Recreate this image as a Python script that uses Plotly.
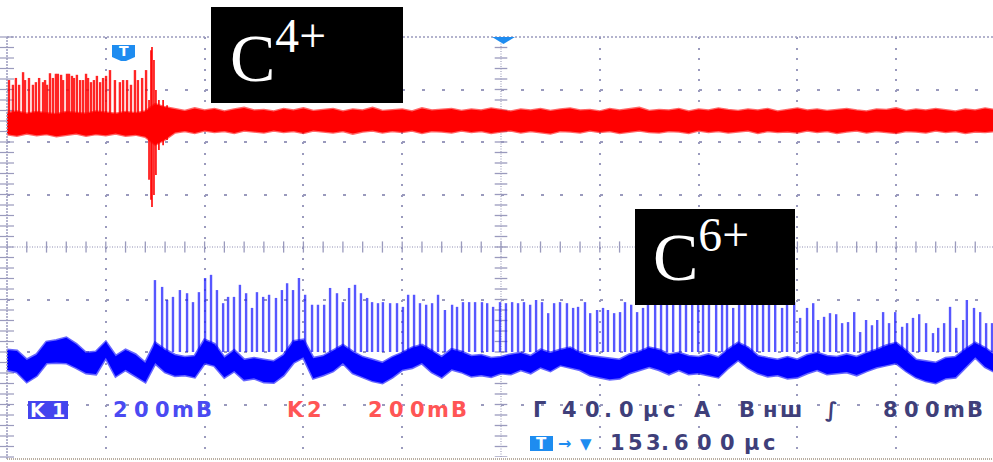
import plotly.graph_objects as go

# ---------------- data (time in µs, amplitude in divisions) ----------------
t_env = [0, 4, 8, 12, 16, 20, 24, 28, 32, 36,
         40, 44, 48, 52, 56, 60, 64, 68, 72, 76,
         80, 84, 88, 92, 96, 100, 104, 108, 112, 116,
         120, 124, 128, 132, 136, 140, 144, 148, 152, 156,
         160, 164, 168, 172, 176, 180, 184, 188, 192, 196,
         200, 204, 208, 212, 216, 220, 224, 228, 232, 236,
         240, 244, 248, 252, 256, 260, 264, 268, 272, 276,
         280, 284, 288, 292, 296, 300, 304, 308, 312, 316,
         320, 324, 328, 332, 336, 340, 344, 348, 352, 356,
         360, 364, 368, 372, 376, 380, 384, 388, 392, 396,
         400]

# channel 2 (red, C4+) noise envelope
red_hi = [2.55, 2.58, 2.54, 2.57, 2.55, 2.53, 2.57, 2.55, 2.54, 2.58,
          2.56, 2.54, 2.57, 2.55, 2.58, 2.72, 2.66, 2.62, 2.59, 2.64,
          2.60, 2.63, 2.58, 2.62, 2.65, 2.60, 2.61, 2.58, 2.63, 2.60,
          2.64, 2.59, 2.61, 2.63, 2.58, 2.62, 2.60, 2.65, 2.59, 2.61,
          2.62, 2.58, 2.64, 2.60, 2.61, 2.63, 2.59, 2.62, 2.60, 2.64,
          2.61, 2.58, 2.62, 2.60, 2.63, 2.59, 2.62, 2.64, 2.60, 2.61,
          2.58, 2.63, 2.60, 2.62, 2.65, 2.59, 2.61, 2.60, 2.63, 2.58,
          2.62, 2.60, 2.64, 2.61, 2.59, 2.62, 2.60, 2.63, 2.58, 2.61,
          2.64, 2.60, 2.62, 2.59, 2.61, 2.63, 2.60, 2.58, 2.62, 2.61,
          2.64, 2.59, 2.62, 2.60, 2.63, 2.61, 2.58, 2.62, 2.60, 2.64,
          2.61]
red_lo = [2.15, 2.12, 2.16, 2.13, 2.15, 2.11, 2.14, 2.16, 2.12, 2.15,
          2.13, 2.16, 2.12, 2.14, 2.10, 1.95, 2.05, 2.18, 2.21, 2.17,
          2.22, 2.19, 2.21, 2.17, 2.22, 2.20, 2.18, 2.22, 2.19, 2.21,
          2.17, 2.22, 2.20, 2.18, 2.21, 2.16, 2.20, 2.22, 2.18, 2.21,
          2.19, 2.22, 2.17, 2.21, 2.20, 2.18, 2.22, 2.19, 2.21, 2.17,
          2.20, 2.22, 2.18, 2.21, 2.19, 2.16, 2.21, 2.20, 2.18, 2.22,
          2.19, 2.21, 2.17, 2.20, 2.22, 2.19, 2.18, 2.21, 2.20, 2.17,
          2.22, 2.19, 2.21, 2.18, 2.20, 2.22, 2.17, 2.21, 2.19, 2.20,
          2.18, 2.22, 2.19, 2.21, 2.17, 2.20, 2.22, 2.18, 2.21, 2.19,
          2.17, 2.21, 2.20, 2.18, 2.22, 2.19, 2.21, 2.17, 2.20, 2.19,
          2.21]

# channel 2 pulses before the trigger
red_spike_t = [0.8, 2.4, 3.6, 4.9, 6.5, 7.3, 8.9, 10.5, 11.7, 13.0, 14.6, 15.4, 16.2, 17.4, 18.6,
               19.8, 20.6, 21.9, 22.7, 24.3, 25.1, 26.3, 27.1, 28.3, 29.6, 30.8, 32.0, 32.8, 34.0,
               35.2, 36.4, 37.7, 38.9, 40.1, 41.7, 43.7, 45.7, 47.0, 48.6, 50.2, 51.8, 53.0, 54.7, 56.3]
red_spike_top = [3.18, 3.09, 3.22, 3.09, 3.33, 3.18, 3.22, 3.09, 3.14, 3.22, 3.14, 3.18, 3.09, 3.31,
                 3.22, 3.30, 3.30, 3.28, 3.18, 3.30, 3.30, 3.26, 3.22, 3.28, 3.18, 3.18, 3.30, 3.22,
                 3.14, 3.18, 3.26, 3.14, 3.22, 3.26, 3.37, 3.18, 3.14, 3.18, 3.18, 3.09, 3.37, 3.18,
                 3.22, 3.37]

# channel 2 burst at the trigger
burst_t = [57.5, 58.3, 58.7, 59.5, 60.3, 61.5, 63.2, 64.8]
burst_hi = [2.80, 3.75, 3.81, 3.56, 2.99, 2.80, 2.80, 2.70]
burst_lo = [1.28, 0.90, 0.76, 0.99, 1.37, 1.85, 1.94, 2.04]

# channel 1 (blue, C6+) noise envelope
blue_hi = [-1.96, -1.98, -2.15, -2.05, -1.81, -1.78, -1.73, -1.85, -2.02, -2.00,
           -1.81, -2.08, -1.96, -2.05, -2.21, -1.83, -1.96, -2.06, -2.10, -2.08,
           -1.77, -1.85, -2.11, -1.97, -2.15, -2.12, -2.15, -2.18, -2.06, -1.80,
           -1.77, -2.12, -2.08, -1.98, -1.87, -2.00, -2.10, -2.15, -2.21, -2.10,
           -2.02, -1.92, -1.87, -1.98, -2.10, -1.95, -2.00, -2.08, -2.06, -2.12,
           -2.10, -2.05, -2.02, -2.08, -1.96, -2.02, -1.96, -1.92, -2.02, -2.08,
           -2.10, -2.13, -2.15, -2.05, -2.00, -1.92, -1.96, -2.05, -2.02, -2.08,
           -2.10, -2.05, -2.11, -1.95, -1.83, -1.92, -2.08, -2.12, -2.15, -2.10,
           -2.15, -2.06, -2.02, -2.08, -2.10, -2.05, -2.10, -2.02, -1.96, -1.88,
           -1.83, -1.98, -2.15, -2.18, -2.21, -2.12, -2.10, -1.95, -1.83, -1.93,
           -2.06]
blue_lo = [-2.34, -2.38, -2.57, -2.45, -2.21, -2.20, -2.21, -2.30, -2.40, -2.42,
           -2.11, -2.46, -2.34, -2.45, -2.57, -2.21, -2.38, -2.45, -2.44, -2.48,
           -2.21, -2.26, -2.48, -2.36, -2.53, -2.50, -2.57, -2.58, -2.44, -2.20,
           -2.10, -2.50, -2.44, -2.36, -2.21, -2.40, -2.48, -2.55, -2.59, -2.48,
           -2.34, -2.30, -2.21, -2.38, -2.48, -2.33, -2.38, -2.46, -2.44, -2.47,
           -2.40, -2.42, -2.34, -2.40, -2.29, -2.36, -2.25, -2.30, -2.34, -2.44,
           -2.48, -2.52, -2.50, -2.40, -2.34, -2.28, -2.34, -2.42, -2.34, -2.42,
           -2.40, -2.44, -2.48, -2.30, -2.15, -2.30, -2.40, -2.46, -2.44, -2.50,
           -2.48, -2.40, -2.34, -2.42, -2.40, -2.38, -2.44, -2.36, -2.29, -2.25,
           -2.21, -2.36, -2.48, -2.55, -2.59, -2.50, -2.48, -2.30, -2.10, -2.28,
           -2.38]

# channel 1 pulses after the trigger
blue_spike_t = [59.9, 62.8, 64.8, 67.2, 70.0, 72.9, 75.3, 77.7, 80.2, 82.6, 85.0, 87.5, 89.5, 91.9,
                94.3, 96.8, 99.2, 101.2, 103.7, 106.1, 108.9, 111.3, 113.4, 115.8, 118.2, 120.7,
                123.5, 125.9, 128.4, 130.8, 133.6, 136.0, 138.5, 140.9, 143.3, 145.8,
                147.8, 150.2, 152.2, 155.1, 157.9, 160.3, 162.4, 164.8, 167.2, 169.7, 172.1, 174.5,
                177.3, 180.2, 182.2, 184.6, 187.1, 189.5, 192.3, 194.4, 196.8, 199.6, 202.0, 204.5,
                206.9, 209.3, 211.8, 214.2, 216.6, 219.1, 221.5, 223.9, 226.7, 229.2, 231.2, 234.0,
                236.1, 238.9, 241.3, 243.3, 245.8, 248.2, 250.2, 252.7, 255.1, 257.5, 259.5, 262.4,
                264.8, 267.2, 269.7, 272.5, 274.9, 277.4, 279.8, 281.8, 284.2, 287.1, 289.5, 291.5,
                294.0, 296.4, 298.8, 301.7, 303.7, 306.1, 308.5, 311.0, 313.8, 315.8, 318.7,
                321.1, 323.9, 326.4, 328.4, 330.8, 333.2, 335.7, 338.1, 340.5, 343.0, 345.4, 347.8,
                350.2, 352.3, 354.7, 357.1, 359.6, 362.4, 364.4, 366.8, 369.3, 372.1, 374.9, 377.0,
                379.4, 381.8, 384.3, 387.1, 388.6, 391.5, 394.0, 396.4, 398.8]
blue_spike_top = [-0.63, -0.76, -1.01, -0.95, -0.82, -0.88, -1.05, -0.86, -0.59, -0.53, -0.82, -1.07,
                  -0.95, -0.95, -0.72, -0.88, -1.16, -0.86, -0.95, -0.91, -0.97, -0.82, -0.69, -0.82,
                  -0.59, -0.91, -1.10, -1.10, -1.10, -0.78, -0.88, -1.05, -0.78, -0.72, -0.88, -0.97,
                  -1.05, -1.07, -1.05, -1.07, -1.07, -1.14, -0.91, -0.91, -1.07, -1.10, -1.07, -0.91,
                  -1.20, -1.10, -1.14, -1.05, -1.05, -1.05, -1.05, -1.07, -1.14, -1.05, -1.07, -1.05,
                  -1.07, -1.05, -1.10, -1.01, -1.05, -1.26, -1.07, -1.05, -1.07, -1.16, -1.14, -1.05,
                  -1.26, -1.20, -1.16, -1.20, -1.26, -1.24, -1.05, -1.10, -1.24, -1.16, -1.10, -1.01,
                  -1.01, -1.10, -1.01, -1.01, -1.10, -1.10, -1.01, -1.10, -1.01, -1.05, -1.01, -1.10,
                  -1.16, -1.10, -1.01, -1.05, -1.10, -1.01, -1.05, -1.10, -1.16, -1.10, -1.05,
                  -1.35, -1.16, -1.07, -1.39, -1.33, -1.26, -1.28, -1.45, -1.43, -1.24, -1.62, -1.39,
                  -1.49, -1.39, -1.24, -1.45, -1.24, -1.52, -1.45, -1.35, -1.28, -1.45, -1.64, -1.54,
                  -1.45, -1.14, -1.54, -1.39, -1.01, -1.16, -1.24, -1.45, -1.45]

# screen read-out texts
ch1_label, ch1_scale = "K1", "200mB"
ch2_label, ch2_scale = "K2", "200mB"
timebase = "40.0μc"
trig_mode, trig_src, trig_level = "A", "Bнш", "800mB"
trig_delay = "153.600μc"

# ---------------- styles ----------------
RED = "#ff0000"
BLUE = "#0000ff"
GRID = "#9a9abd"
NAVY = "#3f3f7a"
TXT_BLUE = "#4a4af2"
TXT_RED = "#ff5555"
BADGE = "#1e8cf0"

fig = go.Figure()

def px(x):   # screen pixel -> paper x
    return (x - 7) / 986

def py(y):   # screen pixel -> paper y
    return (457 - y) / 420

def spike_trace(ts, tops, base, color, width, opacity=1.0):
    xs, ys = [], []
    for t, top in zip(ts, tops):
        xs += [t, t, None]
        ys += [base, top, None]
    return go.Scatter(x=xs, y=ys, mode="lines", line=dict(color=color, width=width),
                      opacity=opacity, hoverinfo="skip")

def band_trace(t, hi, lo, color, edge, edge_w):
    return go.Scatter(x=t + t[::-1], y=hi + lo[::-1], mode="lines", fill="toself",
                      fillcolor=color, line=dict(color=edge, width=edge_w),
                      hoverinfo="skip")

# grid decoration: centre cross ticks and left ruler
fig.add_trace(go.Scatter(x=[200] * 41, y=[-4 + 0.2 * i for i in range(41)], mode="markers",
                         marker=dict(symbol="line-ew", size=9, line=dict(color=GRID, width=1.3)),
                         hoverinfo="skip"))
fig.add_trace(go.Scatter(x=[8 * i for i in range(51)], y=[0] * 51, mode="markers",
                         marker=dict(symbol="line-ns", size=8, line=dict(color=GRID, width=1.3)),
                         hoverinfo="skip"))
fig.add_trace(go.Scatter(x=[0] * 41, y=[-4 + 0.2 * i for i in range(41)], mode="markers",
                         marker=dict(symbol="line-ew", size=10, line=dict(color=GRID, width=1.2)),
                         hoverinfo="skip", cliponaxis=False))

# channel 1 (blue)
fig.add_trace(spike_trace(blue_spike_t, blue_spike_top, -2.0, "#2020ff", 2.4, 0.75))
fig.add_trace(band_trace(t_env, blue_hi, blue_lo, BLUE, "rgba(0,0,255,0.6)", 3))

# channel 2 (red)
fig.add_trace(spike_trace(red_spike_t, red_spike_top, 2.35, RED, 2.4, 0.85))
xs, ys = [], []
for t, hi, lo in zip(burst_t, burst_hi, burst_lo):
    xs += [t, t, None]
    ys += [lo, hi, None]
fig.add_trace(go.Scatter(x=xs, y=ys, mode="lines", line=dict(color=RED, width=1.6), hoverinfo="skip"))
fig.add_trace(band_trace(t_env, red_hi, red_lo, RED, "rgba(255,0,0,0.6)", 2.5))

shapes = []
# centre lines (dense dotted)
shapes.append(dict(type="line", xref="x", yref="y", x0=200, x1=200, y0=-4, y1=4,
                   line=dict(color="#b4b4cc", width=1.5, dash="1px,1.5px"), layer="below"))
shapes.append(dict(type="line", xref="x", yref="y", x0=0, x1=400, y0=0, y1=0,
                   line=dict(color="#b4b4cc", width=1.5, dash="1px,1.5px"), layer="below"))
# borders
shapes.append(dict(type="line", xref="paper", yref="paper", x0=0, x1=1, y0=1, y1=1,
                   line=dict(color=GRID, width=1.5, dash="2px,2px")))
shapes.append(dict(type="line", xref="paper", yref="paper", x0=0, x1=0, y0=py(459), y1=1,
                   line=dict(color=GRID, width=1.5, dash="2px,1px")))
shapes.append(dict(type="line", xref="paper", yref="paper", x0=0, x1=1, y0=py(459), y1=py(459),
                   line=dict(color="#b8ada0", width=2, dash="1px,1px")))

# label boxes
shapes.append(dict(type="rect", xref="paper", yref="paper", x0=px(211), x1=px(403), y0=py(103), y1=py(7),
                   fillcolor="black", line=dict(width=0)))
shapes.append(dict(type="rect", xref="paper", yref="paper", x0=px(635), x1=px(795), y0=py(305), y1=py(209),
                   fillcolor="black", line=dict(width=0)))

# trigger markers
shapes.append(dict(type="path", xref="paper", yref="paper",
                   path="M {} {} L {} {} L {} {} Z".format(px(492), py(37), px(515), py(37), px(503.5), py(44)),
                   fillcolor=BADGE, line=dict(width=0)))
shapes.append(dict(type="path", xref="paper", yref="paper",
                   path="M {} {} L {} {} L {} {} L {} {} L {} {} L {} {} Z".format(
                       px(112), py(45), px(135), py(45), px(135), py(57), px(126), py(61), px(121), py(61), px(112), py(57)),
                   fillcolor=BADGE, line=dict(width=0)))
# K1 box and bottom T badge
shapes.append(dict(type="rect", xref="paper", yref="paper", x0=px(28), x1=px(68), y0=py(419), y1=py(401),
                   fillcolor="#4444ee", line=dict(width=0)))
shapes.append(dict(type="rect", xref="paper", yref="paper", x0=px(530), x1=px(553), y0=py(451), y1=py(436),
                   fillcolor=BADGE, line=dict(width=0)))

annotations = []

def glyphs(text, centers, ycen, color, size=21):
    for ch, cx in zip(text, centers):
        annotations.append(dict(xref="paper", yref="paper", x=px(cx), y=py(ycen), text=ch,
                                showarrow=False, xanchor="center", yanchor="middle",
                                font=dict(family="DejaVu Sans", size=size, color=color, weight="bold")))

glyphs(ch1_label, [38, 58], 410, "white", 19)
glyphs(ch1_scale, [120, 141, 162, 183, 204], 410, TXT_BLUE)
glyphs(ch2_label, [295, 314], 410, TXT_RED)
glyphs(ch2_scale, [375, 396, 417, 438, 459], 410, TXT_RED)
glyphs("Γ", [539], 410, NAVY)
glyphs(timebase, [569, 592, 608, 626, 650, 669], 410, NAVY)
glyphs(trig_mode, [702], 410, NAVY)
glyphs(trig_src, [747, 770, 791], 410, NAVY)
glyphs("∫", [831], 410, NAVY)
glyphs(trig_level, [890, 911, 932, 954, 975], 410, NAVY)
glyphs("T", [541.5], 443.5, "white", 15)
glyphs("→", [564], 443, BADGE, 16)
glyphs("▼", [586], 444, BADGE, 15)
glyphs(trig_delay, [617, 635, 653, 665, 681, 704, 727, 751, 769], 443, NAVY)
glyphs("T", [123.5], 51.5, "white", 14)

annotations.append(dict(xref="paper", yref="paper", x=px(228), y=py(53), xanchor="left", yanchor="middle",
                        text="C<sup>4+</sup>", showarrow=False,
                        font=dict(family="Liberation Serif", size=68, color="white")))
annotations.append(dict(xref="paper", yref="paper", x=px(651), y=py(252), xanchor="left", yanchor="middle",
                        text="C<sup>6+</sup>", showarrow=False,
                        font=dict(family="Liberation Serif", size=68, color="white")))

fig.update_layout(
    width=993, height=462,
    margin=dict(l=7, r=0, t=37, b=5),
    paper_bgcolor="white", plot_bgcolor="white",
    showlegend=False,
    xaxis=dict(range=[0, 399.19], tickvals=[40, 80, 120, 160, 240, 280, 320, 360],
               showticklabels=False, ticks="", showgrid=True, gridcolor=GRID, gridwidth=1.5,
               griddash="2px,8.5px", zeroline=False, showline=False, fixedrange=True),
    yaxis=dict(range=[-4, 4], tickvals=[-3, -2, -1, 1, 2, 3],
               showticklabels=False, ticks="", showgrid=True, gridcolor=GRID, gridwidth=1.5,
               griddash="3px,16.76px", zeroline=False, showline=False, fixedrange=True),
    shapes=shapes,
    annotations=annotations,
)

fig.write_html("out.html", config={"displayModeBar": False},
               post_script="document.body.style.margin='0px';document.body.style.overflow='hidden';")
